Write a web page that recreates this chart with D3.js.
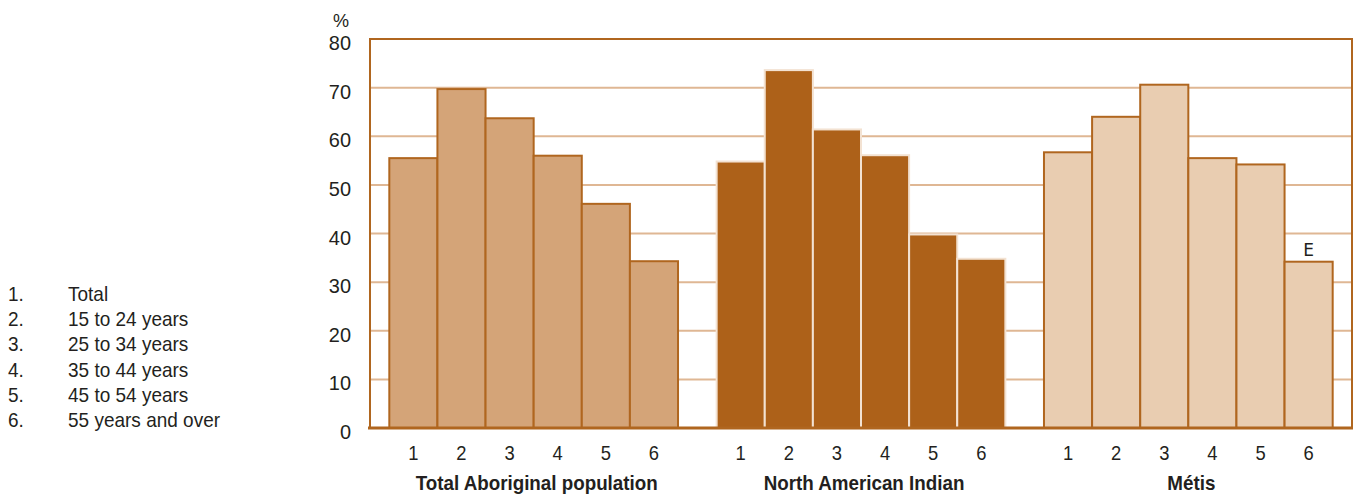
<!DOCTYPE html>
<html><head><meta charset="utf-8">
<script src="https://cdn.jsdelivr.net/npm/d3@7"></script>
<style>
body{margin:0;background:#fff;}
svg{display:block;}
text{font-family:"Liberation Sans",Arial,sans-serif;fill:#231f20;}
</style></head>
<body>
<svg id="chart" width="1354" height="496"></svg>
<script>
const groups = ["Total Aboriginal population", "North American Indian", "Métis"];
const ageCodes = ["1","2","3","4","5","6"];
const legendLabels = ["Total","15 to 24 years","25 to 34 years","35 to 44 years","45 to 54 years","55 years and over"];
const totalAboriginal = [55.5, 69.7, 63.7, 56.0, 46.1, 34.3];
const northAmericanIndian = [54.8, 73.6, 61.4, 56.1, 39.8, 34.8];
const metis = [56.7, 64.0, 70.6, 55.5, 54.2, 34.2];
const metisFlags = ["", "", "", "", "", "E"];
const yTicks = [0,10,20,30,40,50,60,70,80];

const series = [totalAboriginal, northAmericanIndian, metis];
const fills = ["#d4a478", "#ad6119", "#e9cdb1"];
const strokes = ["#b0661f", "#f3e2d2", "#b0661f"];

const svg = d3.select("#chart");
const L = 370, R = 1352, T = 39, B = 428;
const y = d3.scaleLinear().domain([0,80]).range([B,T]);
const x0 = d3.scaleBand().domain(groups).range([L,R]).paddingInner(0.118).paddingOuter(0.059);
const x1 = d3.scaleBand().domain(ageCodes).range([0, x0.bandwidth()]);

// condensed text helper
function ctext(sel, x, yy, s, size, anchor, weight){
  return sel.append("text")
    .attr("transform", `translate(${x},${yy}) scale(${s},1)`)
    .attr("text-anchor", anchor || "start")
    .attr("font-size", size)
    .attr("font-weight", weight || "normal");
}

// gridlines
svg.append("g").selectAll("line").data(yTicks.filter(d=>d>0 && d<80)).join("line")
  .attr("x1", L).attr("x2", R).attr("y1", d=>y(d)).attr("y2", d=>y(d))
  .attr("stroke", "#dfb794").attr("stroke-width", 2);

// bars
groups.forEach((g, gi) => {
  const gg = svg.append("g").attr("transform", `translate(${x0(g)},0)`);
  gg.selectAll("rect").data(series[gi]).join("rect")
    .attr("x", (d,i)=>x1(ageCodes[i]))
    .attr("y", d=>y(d))
    .attr("width", x1.bandwidth())
    .attr("height", d=>B - y(d))
    .attr("fill", fills[gi])
    .attr("stroke", strokes[gi])
    .attr("stroke-width", 2);
  ageCodes.forEach(c => {
    ctext(gg, x1(c)+x1.bandwidth()/2, 460, 0.92, 20, "middle").text(c);
  });
  ctext(gg, x0.bandwidth()/2 + 3, 490, 0.94, 20, "middle", "bold").text(g);
});

// E flag
const mg = x0("Métis");
svg.append("g").selectAll("text").data(metis.map((v,i)=>({v, f:metisFlags[i], c:ageCodes[i]})).filter(d=>d.f)).join("text")
  .attr("x", d=>mg + x1(d.c) + x1.bandwidth()/2)
  .attr("y", d=>y(d.v) - 6)
  .attr("text-anchor","middle")
  .attr("font-size", 17)
  .style("font-family","'DejaVu Sans',sans-serif")
  .text(d=>d.f);

// frame
svg.append("path")
  .attr("d", `M${L},${B}V${T}H${R}V${B}`)
  .attr("fill","none").attr("stroke","#b0661f").attr("stroke-width",2);
svg.append("line").attr("x1", L-2).attr("x2", R+1).attr("y1", B).attr("y2", B)
  .attr("stroke","#b0661f").attr("stroke-width",3);

// y axis labels
const yg = svg.append("g");
yTicks.forEach(t => { ctext(yg, 351, y(t)+11, 0.95, 21, "end").text(t); });
ctext(svg, 341, 27, 0.95, 19, "middle").text("%");

// legend
const lg = svg.append("g");
legendLabels.forEach((t,i)=>{
  ctext(lg, 8, 301 + i*25.2, 0.95, 20).text(ageCodes[i] + ".");
  ctext(lg, 68, 301 + i*25.2, 0.95, 20).text(t);
});
</script>
</body></html>
